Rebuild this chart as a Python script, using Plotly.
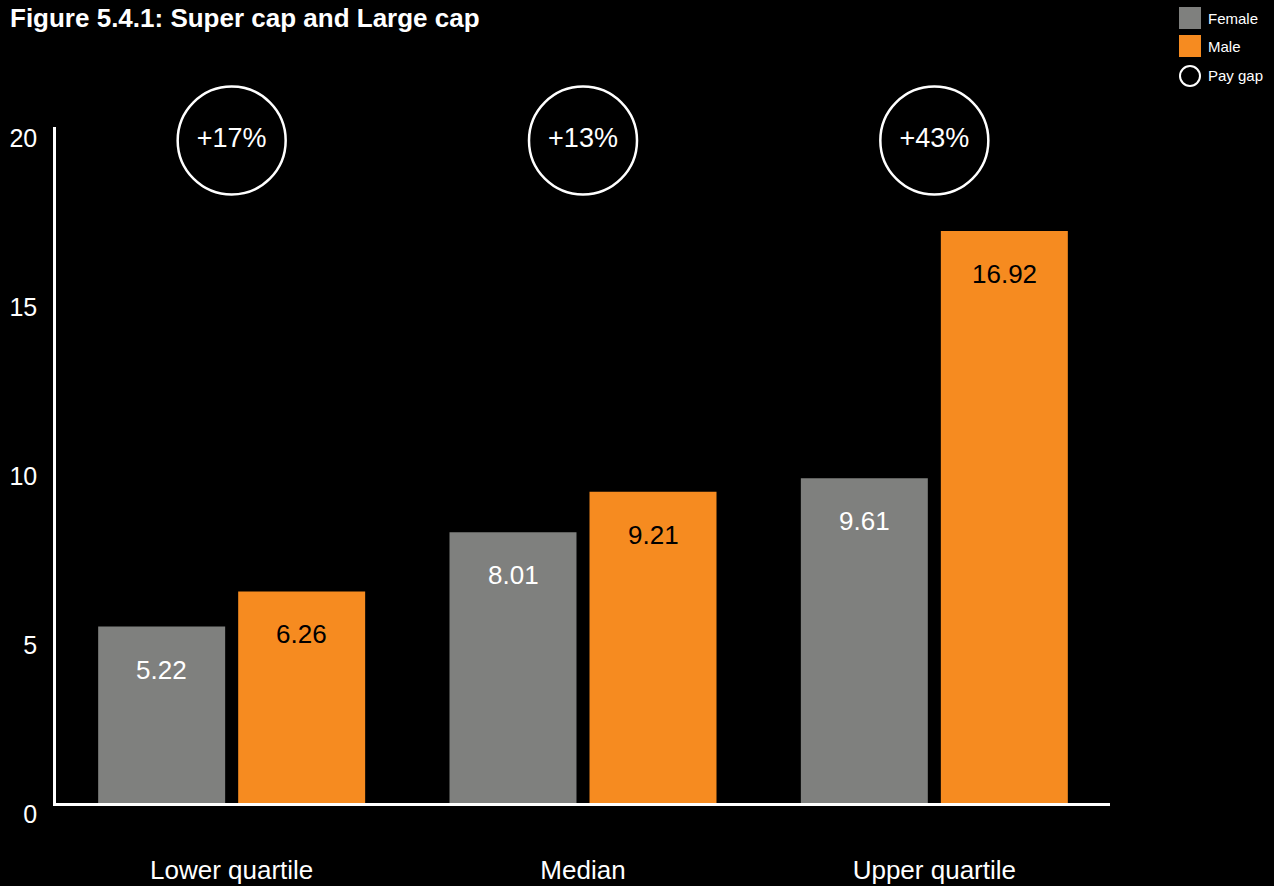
import plotly.graph_objects as go

# Data
categories = ["Lower quartile", "Median", "Upper quartile"]
female = [5.22, 8.01, 9.61]
male = [6.26, 9.21, 16.92]
pay_gap = ["+17%", "+13%", "+43%"]
y_ticks = [0, 5, 10, 15, 20]

FONT = "Liberation Sans, Arial, Helvetica, sans-serif"
GREY = "#7f807e"
ORANGE = "#f68b20"

W, H = 1274, 886
ML, MR, MT, MB = 56, 164, 127, 83
PW, PH = W - ML - MR, H - MT - MB


def px_x(px):
    return (px - ML) / PW


def px_y(py):
    return (H - MB - py) / PH


fig = go.Figure()

fig.add_trace(go.Bar(
    x=categories, y=female, name="Female",
    marker=dict(color=GREY, line=dict(width=0)),
    showlegend=False, hoverinfo="skip",
))
fig.add_trace(go.Bar(
    x=categories, y=male, name="Male",
    marker=dict(color=ORANGE, line=dict(width=0)),
    showlegend=False, hoverinfo="skip",
))

# Pay-gap circles above each group
fig.add_trace(go.Scatter(
    x=categories, y=[19.6] * len(categories),
    mode="markers+text", text=pay_gap, textposition="middle center",
    textfont=dict(family=FONT, size=27, color="white"),
    marker=dict(symbol="circle-open", size=108,
                line=dict(color="white", width=2.5), color="white"),
    cliponaxis=False, showlegend=False, hoverinfo="skip",
))

annotations = []
# Value labels inside bars
for cat, fv, mv in zip(categories, female, male):
    annotations.append(dict(x=cat, y=fv, xref="x", yref="y", text=f"{fv:.2f}",
                            showarrow=False, xshift=-70, yshift=-43,
                            font=dict(family=FONT, size=26, color="white")))
    annotations.append(dict(x=cat, y=mv, xref="x", yref="y", text=f"{mv:.2f}",
                            showarrow=False, xshift=70, yshift=-43,
                            font=dict(family=FONT, size=26, color="black")))

# Title
annotations.append(dict(x=px_x(8), y=px_y(18), xref="paper", yref="paper",
                        xanchor="left", yanchor="middle", showarrow=False,
                        text="<b>Figure 5.4.1: Super cap and Large cap</b>",
                        font=dict(family=FONT, size=26, color="white")))

# Legend
legend_items = [("Female", GREY, "rect", 18), ("Male", ORANGE, "rect", 46),
                ("Pay gap", None, "circle", 76)]
shapes = []
for label, color, kind, cy in legend_items:
    x0, x1 = 1179, 1201
    y0, y1 = cy - 11, cy + 11
    if kind == "rect":
        shapes.append(dict(type="rect", xref="paper", yref="paper",
                           x0=px_x(x0), x1=px_x(x1), y0=px_y(y1), y1=px_y(y0),
                           fillcolor=color, line=dict(width=0)))
    else:
        shapes.append(dict(type="circle", xref="paper", yref="paper",
                           x0=px_x(x0 + 1), x1=px_x(x1 - 1), y0=px_y(y1 - 1), y1=px_y(y0 + 1),
                           fillcolor="rgba(0,0,0,0)", line=dict(color="white", width=2)))
    annotations.append(dict(x=px_x(1206), y=px_y(cy), xref="paper", yref="paper",
                            xanchor="left", yanchor="middle", showarrow=False,
                            text=label, font=dict(family=FONT, size=15, color="white")))

fig.update_layout(
    width=W, height=H,
    margin=dict(l=ML, r=MR, t=MT, b=MB, pad=0),
    paper_bgcolor="black", plot_bgcolor="black",
    barmode="group", bargap=0.203, bargroupgap=0.093,
    showlegend=False,
    annotations=annotations, shapes=shapes,
    font=dict(family=FONT, color="white"),
)

fig.update_xaxes(
    type="category", range=[-0.5, 2.5], automargin=False,
    showline=True, linecolor="white", linewidth=2.5,
    showgrid=False, zeroline=False, ticks="",
    tickfont=dict(family=FONT, size=26, color="white"),
    ticklabelstandoff=42,
)
fig.update_yaxes(
    range=[0, 20], tickvals=y_ticks, ticktext=[str(v) for v in y_ticks],
    automargin=False,
    showline=True, linecolor="white", linewidth=2.5,
    showgrid=False, zeroline=False, ticks="",
    tickfont=dict(family=FONT, size=25, color="white"),
    ticklabelstandoff=11, ticklabelshift=11,
)

fig.write_html("out.html")
